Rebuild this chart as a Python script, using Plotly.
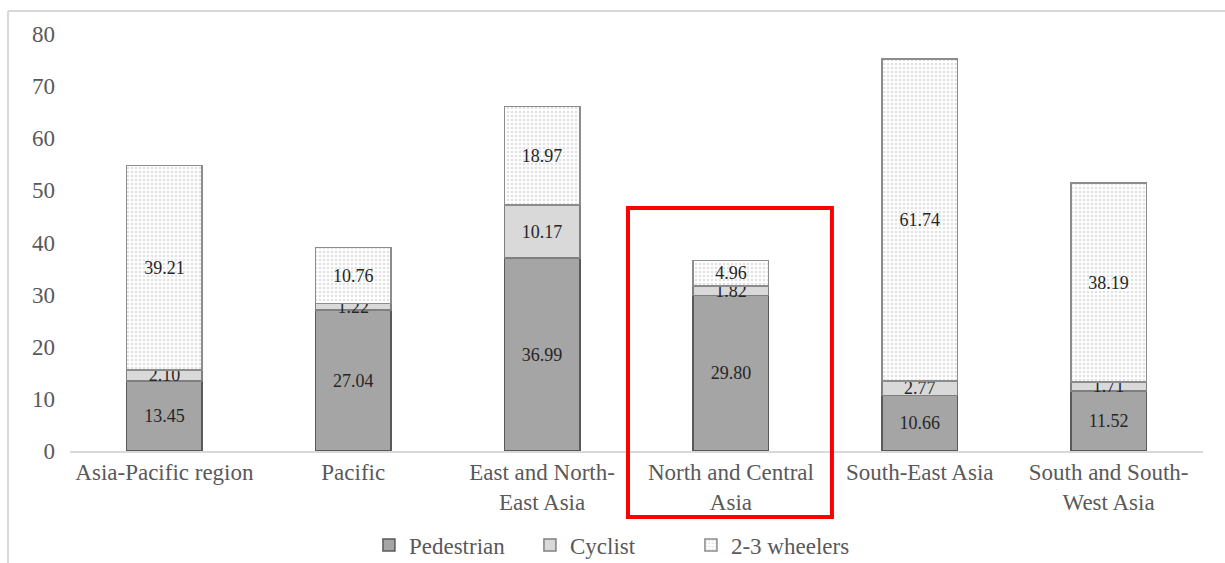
import plotly.graph_objects as go

categories = ["Asia-Pacific region", "Pacific", "East and North-<br>East Asia",
              "North and Central<br>Asia", "South-East Asia", "South and South-<br>West Asia"]
pedestrian = [13.45, 27.04, 36.99, 29.80, 10.66, 11.52]
cyclist = [2.10, 1.22, 10.17, 1.82, 2.77, 1.71]
wheelers = [39.21, 10.76, 18.97, 4.96, 61.74, 38.19]
y_ticks = [0, 10, 20, 30, 40, 50, 60, 70, 80]

FONT = "Liberation Serif, Times New Roman, serif"
fig = go.Figure()

fig.add_trace(go.Bar(
    name="Pedestrian", x=categories, y=pedestrian,
    text=[f"{v:.2f}" for v in pedestrian],
    marker=dict(color="#a5a5a5", line=dict(color="#595959", width=1.5)),
))
fig.add_trace(go.Bar(
    name="Cyclist", x=categories, y=cyclist,
    text=[f"{v:.2f}" for v in cyclist],
    marker=dict(color="#d9d9d9", line=dict(color="#7f7f7f", width=1.5)),
))
fig.add_trace(go.Bar(
    name="2-3 wheelers", x=categories, y=wheelers,
    text=[f"{v:.2f}" for v in wheelers],
    marker=dict(color="#ffffff", line=dict(color="#8c8c8c", width=1.5),
                pattern=dict(shape=".", fgcolor="#c4c4c4", bgcolor="#ffffff",
                             size=4, solidity=0.35)),
))

fig.update_traces(textposition="inside", insidetextanchor="middle",
                  constraintext="none", textangle=0,
                  textfont=dict(family=FONT, size=18, color="#262626"),
                  hoverinfo="skip")

fig.update_layout(
    barmode="stack", bargap=0.6,
    width=1225, height=563,
    margin=dict(l=70, r=22, t=34, b=112),
    paper_bgcolor="white", plot_bgcolor="white",
    font=dict(family=FONT, size=23, color="#595959"),
    xaxis=dict(showline=True, linecolor="#d9d9d9", linewidth=1.5, automargin=False,
               tickfont=dict(family=FONT, size=23, color="#595959"),
               ticks="", showgrid=False),
    yaxis=dict(range=[0, 80], tickvals=y_ticks, showgrid=False, zeroline=False,
               showline=False, ticks="", ticklabelstandoff=14, automargin=False,
               tickfont=dict(family=FONT, size=23, color="#595959")),
    legend=dict(orientation="h", x=0.477, xanchor="center",
                yref="container", y=0.032, yanchor="middle",
                font=dict(family=FONT, size=23, color="#595959"),
                itemwidth=30, entrywidth=116, traceorder="normal"),
    showlegend=True,
)

# chart frame (top & left border lines)
fig.add_shape(type="line", xref="paper", yref="paper", x0=-0.0547, x1=1.02,
              y0=1.055, y1=1.055, line=dict(color="#d9d9d9", width=2))
fig.add_shape(type="line", xref="paper", yref="paper", x0=-0.0547, x1=-0.0547,
              y0=1.055, y1=-0.27, line=dict(color="#d9d9d9", width=2))

# red highlight box
fig.add_shape(type="rect", xref="paper", yref="paper", x0=0.4925, x1=0.6725,
              y0=-0.158, y1=0.583, line=dict(color="#ff0000", width=4))

fig.write_html("out.html")
